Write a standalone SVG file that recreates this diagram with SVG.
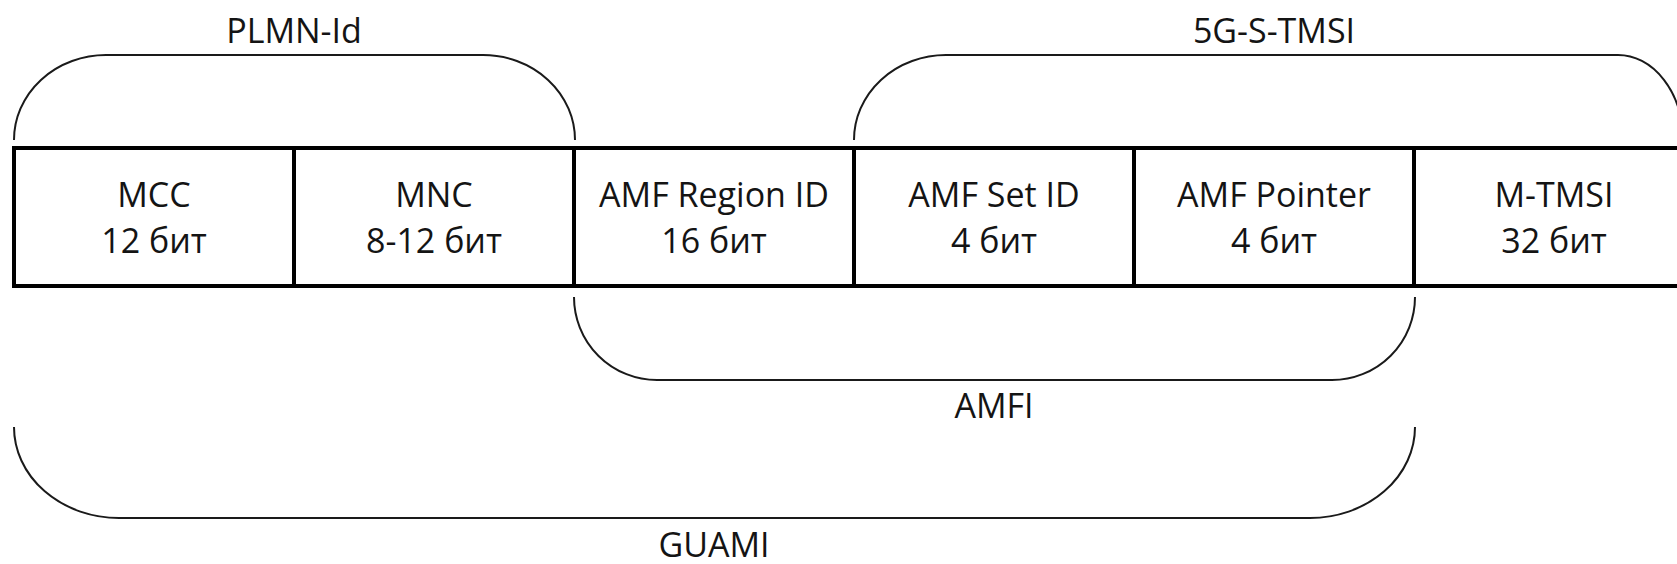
<svg xmlns="http://www.w3.org/2000/svg" width="1677" height="564" viewBox="0 0 1677 564">
  <style>
    .cell { fill: #ffffff; stroke: #000000; stroke-width: 4; }
    .brace { fill: none; stroke: #1a1a1a; stroke-width: 2; }
    .t { font-family: "Open Sans", "Liberation Sans", sans-serif; font-size: 34px; fill: #141414; text-anchor: middle; }
  </style>
  <rect width="1677" height="564" fill="#ffffff"/>

  <g id="connectors">
    <path id="brace-plmn" class="brace" d="M 14,140 A 92 85 0 0 1 106,55 H 483 A 92 85 0 0 1 575,140"/>
    <path id="brace-5gstmsi" class="brace" d="M 854,140 A 92 85 0 0 1 946,55 H 1618 A 65 85 0 0 1 1683,140"/>
    <path id="brace-amfi" class="brace" d="M 574,297 A 83 83 0 0 0 657,380 H 1332 A 83 83 0 0 0 1415,297"/>
    <path id="brace-guami" class="brace" d="M 14,427 A 105 91 0 0 0 119,518 H 1310 A 105 91 0 0 0 1415,427"/>
  </g>

  <g id="node-mcc">
    <rect class="cell" x="14" y="148" width="280" height="138"/>
    <text class="t" x="154" y="207">MCC</text>
    <text class="t" x="154" y="253">12 бит</text>
  </g>
  <g id="node-mnc">
    <rect class="cell" x="294" y="148" width="280" height="138"/>
    <text class="t" x="434" y="207">MNC</text>
    <text class="t" x="434" y="253">8-12 бит</text>
  </g>
  <g id="node-amf-region">
    <rect class="cell" x="574" y="148" width="280" height="138"/>
    <text class="t" x="714" y="207">AMF Region ID</text>
    <text class="t" x="714" y="253">16 бит</text>
  </g>
  <g id="node-amf-set">
    <rect class="cell" x="854" y="148" width="280" height="138"/>
    <text class="t" x="994" y="207">AMF Set ID</text>
    <text class="t" x="994" y="253">4 бит</text>
  </g>
  <g id="node-amf-pointer">
    <rect class="cell" x="1134" y="148" width="280" height="138"/>
    <text class="t" x="1274" y="207">AMF Pointer</text>
    <text class="t" x="1274" y="253">4 бит</text>
  </g>
  <g id="node-mtmsi">
    <rect class="cell" x="1414" y="148" width="290" height="138"/>
    <text class="t" x="1554" y="207">M-TMSI</text>
    <text class="t" x="1554" y="253">32 бит</text>
  </g>

  <g id="label-plmn"><text class="t" x="294" y="43">PLMN-Id</text></g>
  <g id="label-5gstmsi"><text class="t" x="1274" y="43">5G-S-TMSI</text></g>
  <g id="label-amfi"><text class="t" x="994" y="418">AMFI</text></g>
  <g id="label-guami"><text class="t" x="714" y="557">GUAMI</text></g>
</svg>
